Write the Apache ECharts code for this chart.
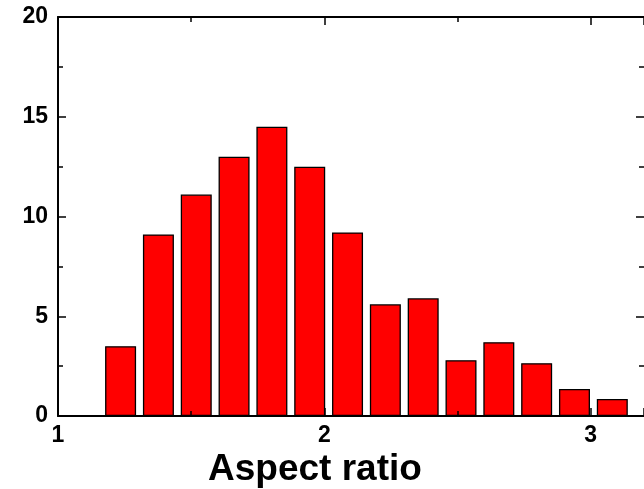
<!DOCTYPE html>
<html>
<head>
<meta charset="utf-8">
<script src="https://cdn.jsdelivr.net/npm/echarts@6/dist/echarts.min.js"></script>
<style>
  html, body { margin: 0; padding: 0; background: #fff; }
  #chart { width: 644px; height: 489px; }
</style>
</head>
<body>
<div id="chart"></div>
<script>
// Histogram of particle aspect ratios
const binCenters = [1.235, 1.377, 1.519, 1.661, 1.803, 1.945, 2.087, 2.229, 2.371, 2.513, 2.655, 2.797, 2.939, 3.081];
const counts = [3.5, 9.1, 11.1, 13.0, 14.5, 12.5, 9.2, 5.6, 5.9, 2.8, 3.7, 2.65, 1.35, 0.85];
const xTitle = 'Aspect ratio';

const FONT = 'Liberation Sans, Arial, sans-serif';
const black = '#000';

function frameAxis(extra) {
  return Object.assign({
    type: 'value',
    z: 10,
    axisLine: { show: true, onZero: false, lineStyle: { color: black, width: 2 } },
    axisTick: { show: true, inside: true, length: 8, lineStyle: { color: black, width: 1.5 } },
    minorTick: { show: true, splitNumber: 2, length: 5, lineStyle: { color: black, width: 1.5 } },
    splitLine: { show: false },
    axisLabel: { show: false }
  }, extra);
}

const boldLabel = { show: true, color: black, fontFamily: FONT, fontWeight: 'bold', fontSize: 23 };

const chart = echarts.init(document.getElementById('chart'));
chart.setOption({
  animation: false,
  backgroundColor: '#fff',
  grid: { left: 58, top: 17, right: 0, bottom: 73, containLabel: false },
  title: {
    text: xTitle,
    left: 203,
    top: 446,
    textStyle: { color: black, fontFamily: FONT, fontWeight: 'bold', fontSize: 37 }
  },
  xAxis: [
    frameAxis({ position: 'bottom', min: 1, max: 3.2, interval: 1,
      axisLabel: Object.assign({}, boldLabel, { margin: 8, showMaxLabel: false }) }),
    frameAxis({ position: 'top', min: 1, max: 3.2, interval: 1 })
  ],
  yAxis: [
    frameAxis({ position: 'left', min: 0, max: 20, interval: 5,
      axisLabel: Object.assign({}, boldLabel, { margin: 10 }) }),
    frameAxis({ position: 'right', min: 0, max: 20, interval: 5,
      axisLine: { show: false } })
  ],
  series: [{
    type: 'bar',
    xAxisIndex: 0,
    yAxisIndex: 0,
    barWidth: 31,
    data: binCenters.map((x, i) => [x, counts[i]]),
    itemStyle: { color: '#ff0000', borderColor: black, borderWidth: 1.3 }
  }]
});
</script>
</body>
</html>
